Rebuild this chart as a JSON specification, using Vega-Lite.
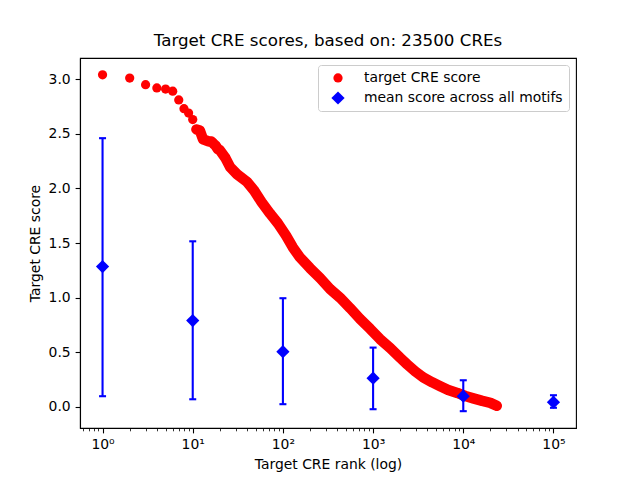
{
  "$schema": "https://vega.github.io/schema/vega-lite/v6.json",
  "width": 496,
  "height": 370,
  "autosize": {"type": "none"},
  "padding": {"left": 80, "top": 58, "right": 64, "bottom": 52},
  "background": "white",
  "title": {"text": "Target CRE scores, based on: 23500 CREs", "fontSize": 16.7, "fontWeight": "normal", "font": "DejaVu Sans", "color": "black", "offset": 8},
  "datasets": {
    "cre": [
      {"rank": 1, "score": 3.04}, {"rank": 2, "score": 3.01}, {"rank": 3, "score": 2.95}, {"rank": 4, "score": 2.92},
      {"rank": 5, "score": 2.91}, {"rank": 6, "score": 2.89}, {"rank": 7, "score": 2.81}, {"rank": 8, "score": 2.73},
      {"rank": 9, "score": 2.69}, {"rank": 10, "score": 2.63}, {"rank": 11, "score": 2.54}, {"rank": 12, "score": 2.53},
      {"rank": 13, "score": 2.45}, {"rank": 14, "score": 2.44}, {"rank": 15, "score": 2.43}, {"rank": 16, "score": 2.43},
      {"rank": 17, "score": 2.41}, {"rank": 18, "score": 2.39}, {"rank": 19, "score": 2.36}, {"rank": 20, "score": 2.35},
      {"rank": 23, "score": 2.28}, {"rank": 26, "score": 2.195}, {"rank": 31, "score": 2.13}, {"rank": 40, "score": 2.06},
      {"rank": 48, "score": 1.98}, {"rank": 58, "score": 1.875}, {"rank": 72, "score": 1.77}, {"rank": 88, "score": 1.68},
      {"rank": 108, "score": 1.57}, {"rank": 129, "score": 1.46}, {"rank": 154, "score": 1.37}, {"rank": 200, "score": 1.27},
      {"rank": 258, "score": 1.18}, {"rank": 333, "score": 1.08}, {"rank": 430, "score": 1.0}, {"rank": 555, "score": 0.905},
      {"rank": 717, "score": 0.805}, {"rank": 926, "score": 0.715}, {"rank": 1196, "score": 0.62}, {"rank": 1545, "score": 0.54},
      {"rank": 1995, "score": 0.45}, {"rank": 2387, "score": 0.39}, {"rank": 2929, "score": 0.325}, {"rank": 3594, "score": 0.27},
      {"rank": 4524, "score": 0.225}, {"rank": 5551, "score": 0.19}, {"rank": 6813, "score": 0.155}, {"rank": 8577, "score": 0.128},
      {"rank": 10525, "score": 0.1}, {"rank": 12915, "score": 0.078}, {"rank": 16259, "score": 0.055}, {"rank": 19953, "score": 0.037},
      {"rank": 23500, "score": 0.01}
    ],
    "motifs": [
      {"rank": 1, "mean": 1.285, "lower": 0.098, "upper": 2.46},
      {"rank": 10, "mean": 0.79, "lower": 0.07, "upper": 1.516},
      {"rank": 100, "mean": 0.506, "lower": 0.025, "upper": 0.995},
      {"rank": 1000, "mean": 0.263, "lower": -0.021, "upper": 0.543},
      {"rank": 10000, "mean": 0.098, "lower": -0.039, "upper": 0.244},
      {"rank": 100000, "mean": 0.043, "lower": -0.008, "upper": 0.107}
    ]
  },
  "layer": [
    {
      "data": {"name": "cre"},
      "transform": [{"filter": "datum.rank >= 11"}],
      "mark": {"type": "line", "color": "#ff0000", "strokeWidth": 10.5, "strokeCap": "round", "strokeJoin": "round"},
      "encoding": {
        "x": {"field": "rank", "type": "quantitative", "scale": {"type": "log", "domain": [0.5623, 177828], "nice": false},
              "axis": {"orient": "bottom", "values": [0.6, 0.7, 0.8, 0.9, 2, 3, 4, 5, 6, 7, 8, 9, 20, 30, 40, 50, 60, 70, 80, 90, 200, 300, 400, 500, 600, 700, 800, 900, 2000, 3000, 4000, 5000, 6000, 7000, 8000, 9000, 20000, 30000, 40000, 50000, 60000, 70000, 80000, 90000],
                       "labels": false, "title": null, "domain": false, "tickSize": 2.8, "tickWidth": 0.8, "tickColor": "black", "grid": false}},
        "y": {"field": "score", "type": "quantitative"}
      }
    },
    {
      "data": {"name": "cre"},
      "mark": {"type": "point", "filled": true, "opacity": 1},
      "encoding": {
        "x": {"field": "rank", "type": "quantitative",
              "axis": {"orient": "bottom", "values": [1, 10, 100, 1000, 10000, 100000],
                       "labelExpr": "datum.value == 1 ? '10⁰' : datum.value == 10 ? '10¹' : datum.value == 100 ? '10²' : datum.value == 1000 ? '10³' : datum.value == 10000 ? '10⁴' : '10⁵'",
                       "title": "Target CRE rank (log)"}},
        "y": {"field": "score", "type": "quantitative", "scale": {"domain": [-0.193, 3.194], "nice": false, "zero": false},
              "axis": {"values": [0, 0.5, 1, 1.5, 2, 2.5, 3], "format": ".1f", "title": "Target CRE score"}},
        "color": {"datum": "target CRE score", "type": "nominal",
                  "scale": {"domain": ["target CRE score", "mean score across all motifs"], "range": ["#ff0000", "#0000ff"]},
                  "legend": {"title": null, "orient": "top-right", "offset": 7}},
        "shape": {"datum": "target CRE score", "type": "nominal",
                  "scale": {"domain": ["target CRE score", "mean score across all motifs"], "range": ["circle", "diamond"]},
                  "legend": {"title": null, "orient": "top-right", "offset": 7}},
        "size": {"datum": "target CRE score", "type": "nominal",
                 "scale": {"domain": ["target CRE score", "mean score across all motifs"], "range": [85, 175]},
                 "legend": {"title": null, "orient": "top-right", "offset": 7}}
      }
    },
    {
      "data": {"name": "motifs"},
      "mark": {"type": "rule", "color": "#0000ff", "strokeWidth": 2.1},
      "encoding": {
        "x": {"field": "rank", "type": "quantitative", "axis": null},
        "y": {"field": "lower", "type": "quantitative"},
        "y2": {"field": "upper"}
      }
    },
    {
      "data": {"name": "motifs"},
      "mark": {"type": "tick", "orient": "horizontal", "color": "#0000ff", "size": 7, "thickness": 2.1, "opacity": 1},
      "encoding": {
        "x": {"field": "rank", "type": "quantitative", "axis": null},
        "y": {"field": "lower", "type": "quantitative"}
      }
    },
    {
      "data": {"name": "motifs"},
      "mark": {"type": "tick", "orient": "horizontal", "color": "#0000ff", "size": 7, "thickness": 2.1, "opacity": 1},
      "encoding": {
        "x": {"field": "rank", "type": "quantitative", "axis": null},
        "y": {"field": "upper", "type": "quantitative"}
      }
    },
    {
      "data": {"name": "motifs"},
      "mark": {"type": "point", "filled": true, "opacity": 1},
      "encoding": {
        "x": {"field": "rank", "type": "quantitative", "axis": null},
        "y": {"field": "mean", "type": "quantitative"},
        "color": {"datum": "mean score across all motifs", "type": "nominal"},
        "shape": {"datum": "mean score across all motifs", "type": "nominal"},
        "size": {"datum": "mean score across all motifs", "type": "nominal"}
      }
    }
  ],
  "resolve": {"axis": {"x": "independent"}},
  "config": {
    "font": "DejaVu Sans",
    "view": {"stroke": "black", "strokeWidth": 1.1},
    "axis": {
      "grid": false, "domainColor": "black", "domainWidth": 1.1, "tickColor": "black", "tickWidth": 1.1, "tickSize": 4.9,
      "labelPadding": 4.9, "labelFontSize": 13.9, "labelColor": "black", "labelFont": "DejaVu Sans",
      "titleFontSize": 13.9, "titleFontWeight": "normal", "titleColor": "black", "titleFont": "DejaVu Sans", "titlePadding": 5.6,
      "labelFlush": false, "labelOverlap": false
    },
    "legend": {
      "labelFontSize": 13.9, "labelColor": "black", "labelFont": "DejaVu Sans", "labelLimit": 0,
      "fillColor": "rgba(255,255,255,0.8)", "strokeColor": "#cccccc", "strokeWidth": 1, "cornerRadius": 3,
      "padding": 6, "rowPadding": 6, "symbolOffset": 7, "labelOffset": 19, "symbolStrokeWidth": 0
    }
  }
}
